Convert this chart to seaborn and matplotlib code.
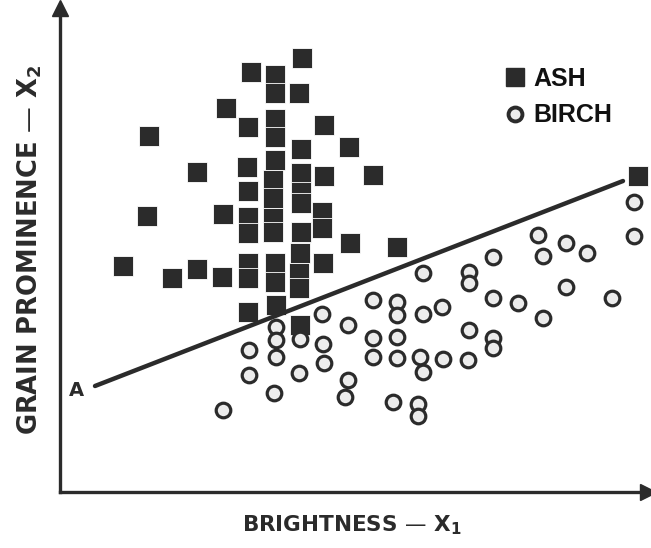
import matplotlib
matplotlib.use("Agg")
import matplotlib.pyplot as plt
from matplotlib.lines import Line2D
import seaborn as sns
import pandas as pd

# ---- data (arbitrary units) ----
ash_brightness = [242, 191, 215, 215, 239, 166, 264, 188, 215, 215, 89, 289, 241, 215,
                  137, 187, 241, 264, 313, 213, 188, 213, 241, 241, 262, 87, 163, 188,
                  188, 213, 213, 262, 241, 290, 337, 240, 263, 63, 112, 137, 162, 188,
                  188, 215, 215, 239, 239, 188, 216, 240, 578]
ash_grain = [434, 420, 417, 399, 399, 384, 367, 365, 373, 355, 356, 345, 343, 332,
             320, 325, 319, 316, 317, 312, 301, 294, 300, 289, 280, 276, 278, 275,
             259, 274, 260, 264, 260, 249, 245, 239, 229, 226, 214, 223, 215, 229,
             214, 229, 210, 219, 204, 180, 187, 167, 316]

birch_brightness = [478, 506, 527, 574, 574, 483, 433, 363, 409, 409, 506, 552, 313, 337,
                    337, 363, 382, 433, 458, 483, 262, 288, 216, 216, 240, 409, 433, 433,
                    189, 216, 263, 264, 313, 313, 337, 337, 360, 363, 383, 408, 189, 239,
                    288, 285, 214, 163, 333, 358, 358]
birch_grain = [257, 249, 239, 256, 290, 236, 235, 219, 220, 209, 205, 194, 192, 190,
               177, 178, 185, 194, 189, 174, 178, 167, 165, 152, 153, 162, 154, 144,
               142, 135, 148, 129, 154, 135, 155, 134, 135, 120, 133, 132, 117, 119,
               112, 95, 99, 82, 90, 88, 76]

boundary_x = [35, 563]
boundary_y = [106, 311]

x_max, y_max = 588, 484

ash = pd.DataFrame({"x": ash_brightness, "y": ash_grain})
birch = pd.DataFrame({"x": birch_brightness, "y": birch_grain})

sns.set_theme(style="white")
plt.rcParams["font.family"] = ["DejaVu Sans"]
plt.rcParams["mathtext.default"] = "regular"

fig = plt.figure(figsize=(6.51, 5.48), dpi=100)
ax = fig.add_axes([60 / 651, 56 / 548, 588 / 651, 484 / 548])

dark = "#2b2b2b"
sns.scatterplot(data=ash, x="x", y="y", marker="s", s=14 ** 2, color=dark,
                edgecolor="white", linewidth=0.6, ax=ax, zorder=3, clip_on=False)
ax.plot(boundary_x, boundary_y, color=dark, lw=3.2, solid_capstyle="round", zorder=4)
sns.scatterplot(data=birch, x="x", y="y", marker="o", s=10.5 ** 2, color="#ececec",
                edgecolor=dark, linewidth=2.3, ax=ax, zorder=5, clip_on=False)

ax.set_xlim(0, x_max)
ax.set_ylim(0, y_max)
ax.set_xticks([])
ax.set_yticks([])
for side in ["top", "right"]:
    ax.spines[side].set_visible(False)
for side in ["left", "bottom"]:
    ax.spines[side].set_color(dark)
    ax.spines[side].set_linewidth(2.4)

# arrow heads on the axes
ax.plot([0], [y_max], marker="^", ms=11, color=dark, clip_on=False, zorder=6)
ax.plot([x_max], [0], marker=">", ms=11, color=dark, clip_on=False, zorder=6)

ax.text(boundary_x[0] - 19, boundary_y[0] - 4, "A", fontsize=14, fontweight="bold",
        color=dark, ha="center", va="center")

ax.set_xlabel("BRIGHTNESS — X$_1$", fontsize=15.5, fontweight="bold", color=dark)
ax.xaxis.set_label_coords(0.497, -0.068)
ax.set_ylabel("GRAIN PROMINENCE — X$_2$", fontsize=18.5, fontweight="bold", color=dark)
ax.yaxis.set_label_coords(-0.052, 0.5)
ax.xaxis.label.set_va("center")
ax.yaxis.label.set_va("center")

handles = [
    Line2D([], [], marker="s", ls="", ms=13, color=dark, mec=dark),
    Line2D([], [], marker="o", ls="", ms=10, mfc="#ececec", mec=dark, mew=2.8),
]
leg = ax.legend(handles, ["ASH", "BIRCH"], loc="upper left",
                bbox_to_anchor=(502 / 651, 1 - 67 / 548), bbox_transform=fig.transFigure,
                frameon=False, borderaxespad=0, borderpad=0, handletextpad=0.25,
                labelspacing=0.5, handlelength=1.0,
                prop={"family": "Liberation Sans", "weight": "bold", "size": 18})
for t in leg.get_texts():
    t.set_color("#111111")

fig.savefig("out.png", dpi=100)
